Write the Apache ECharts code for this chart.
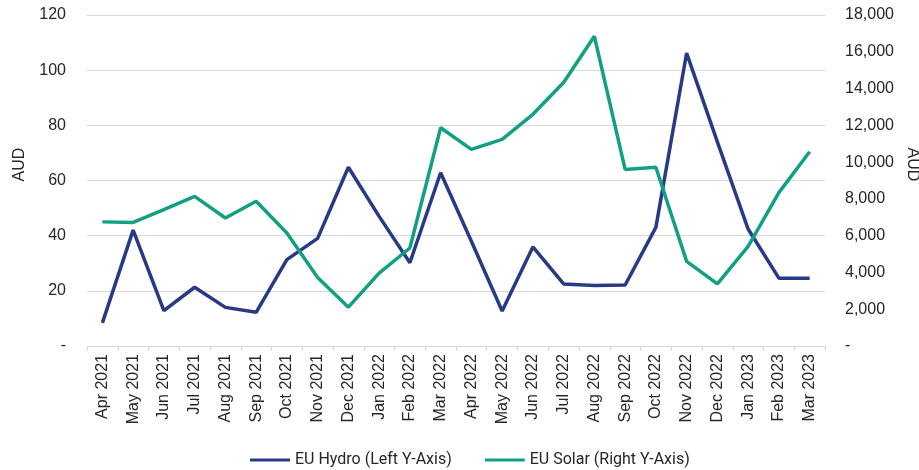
<!DOCTYPE html>
<html>
<head>
<meta charset="utf-8">
<script src="https://cdn.jsdelivr.net/npm/echarts@6/dist/echarts.min.js"></script>
<style>html,body{margin:0;padding:0;background:#fff}#c{width:919px;height:470px}</style>
</head>
<body>
<div id="c"></div>
<script>
var categories = ["Apr 2021","May 2021","Jun 2021","Jul 2021","Aug 2021","Sep 2021","Oct 2021","Nov 2021","Dec 2021","Jan 2022","Feb 2022","Mar 2022","Apr 2022","May 2022","Jun 2022","Jul 2022","Aug 2022","Sep 2022","Oct 2022","Nov 2022","Dec 2022","Jan 2023","Feb 2023","Mar 2023"];
var hydro = [8.4,42,12.8,21.3,14,12.2,31.3,39,64.8,47,30.2,62.8,38,12.7,35.9,22.5,21.9,22.1,43,106.2,74,42.4,24.6,24.6];
var solar = [6750,6720,7420,8140,6960,7870,6150,3730,2110,3960,5330,11870,10690,11240,12600,14330,16840,9600,9720,4600,3380,5420,8340,10560];
var leftTicks = {min:0,max:120,interval:20};
var rightTicks = {min:0,max:18000,interval:2000};
var seriesNames = ["EU Hydro (Left Y-Axis)","EU Solar (Right Y-Axis)"];

var chart = echarts.init(document.getElementById('c'));
var lblFont = {color:'#262626',fontSize:16,fontFamily:'Liberation Sans, Arial, sans-serif'};
function fmtL(v){return v===0?'-':String(v);}
function fmtR(v){return v===0?'-':v.toLocaleString('en-US');}
chart.setOption({
  animation:false,
  grid:{left:87,right:94,top:15,bottom:124,containLabel:false,outerBoundsMode:'none'},
  legend:{top:447,left:245,itemWidth:40,itemHeight:3,itemGap:33,icon:'rect',
    textStyle:{color:'#262626',fontSize:16,fontFamily:'Roboto, sans-serif'},
    data:seriesNames},
  xAxis:{type:'category',data:categories,boundaryGap:true,
    axisLine:{lineStyle:{color:'#d9d9d9'}},
    axisTick:{show:true,alignWithLabel:false,length:5,lineStyle:{color:'#d9d9d9'}},
    axisLabel:Object.assign({rotate:90,margin:8,interval:0},lblFont)},
  yAxis:[
    {type:'value',min:leftTicks.min,max:leftTicks.max,interval:leftTicks.interval,
     name:'AUD',nameLocation:'middle',nameGap:59,nameRotate:90,
     nameTextStyle:{color:'#262626',fontSize:16,fontFamily:'Liberation Sans, Arial, sans-serif',padding:[0,0,0,32]},
     axisLine:{show:false},axisTick:{show:false},
     splitLine:{lineStyle:{color:'#d9d9d9'}},
     axisLabel:Object.assign({margin:21,formatter:fmtL},lblFont)},
    {type:'value',min:rightTicks.min,max:rightTicks.max,interval:rightTicks.interval,
     name:'AUD',nameLocation:'middle',nameGap:73,nameRotate:-90,
     nameTextStyle:{color:'#262626',fontSize:16,fontFamily:'Liberation Sans, Arial, sans-serif',padding:[0,32,0,0]},
     axisLine:{show:false},axisTick:{show:false},splitLine:{show:false},
     axisLabel:Object.assign({margin:20,formatter:fmtR},lblFont)}
  ],
  series:[
    {name:seriesNames[0],type:'line',yAxisIndex:0,data:hydro,symbol:'none',
     lineStyle:{color:'#283a85',width:3.5},itemStyle:{color:'#283a85'}},
    {name:seriesNames[1],type:'line',yAxisIndex:1,data:solar,symbol:'none',
     lineStyle:{color:'#12a085',width:3.5},itemStyle:{color:'#12a085'}}
  ]
});
</script>
</body>
</html>
